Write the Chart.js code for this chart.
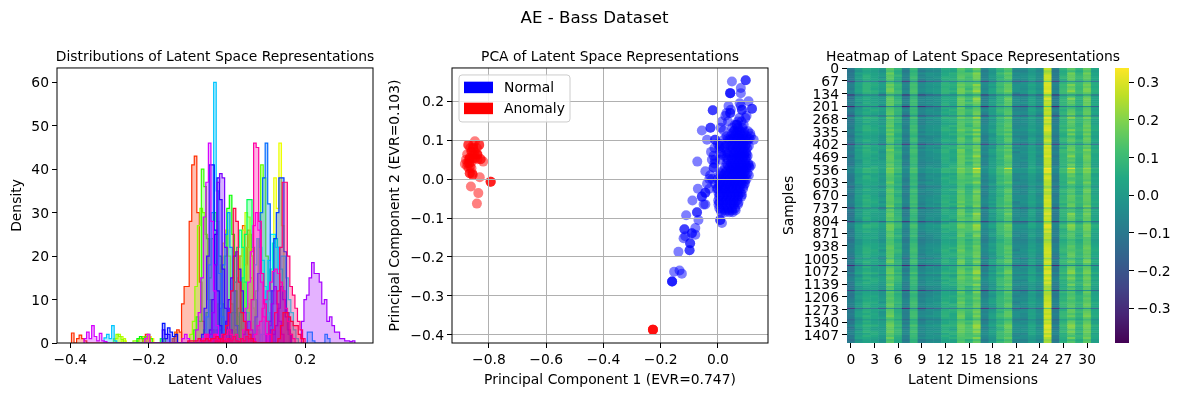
<!DOCTYPE html>
<html><head><meta charset="utf-8">
<style>html,body{margin:0;padding:0;background:#fff;overflow:hidden;width:1182px;height:396px}canvas{position:absolute;top:0}</style>
<script src="https://cdn.jsdelivr.net/npm/chart.js@4"></script></head><body>
<script>
// --- Histogram: each latent dimension is a list of runs [firstBinEdge, density, density, ...]
const histBin=0.0065;
const histColors=['#ff2e00','#ff5b00','#ff8900','#ffb700','#ffe400','#ecff00','#beff00','#91ff00','#63ff00','#36ff00','#08ff00','#00ff26','#00ff53','#00ff81','#00ffaf','#00ffdc','#00f4ff','#00c6ff','#0099ff','#006bff','#003dff','#0010ff','#1e00ff','#4b00ff','#7900ff','#a700ff','#d400ff','#ff00f7','#ff00ce','#ff00a1','#ff0073','#ff0046'];
const dim00=[[-.397,2.3,0,1,1.8,1,.5],[-.215,1,2,1.5],[-.135,1.5,3,2.5],[-.116,9,13,13,28,41,43,30,14,5,2]];
const dim01=[[-.21,1.5,1],[-.14,1,2.5],[.02,3,8,20,27,18,26,15,8,3]];
const dim02=[[.03,3,8,14,22,25,20,10,4]];
const dim03=[[-.225,1,1.5,.5],[.012,3,7,15,20,22,18,9,3]];
const dim04=[[-.2,1.5,1],[-.03,3,9,18,23,26,20,9,3]];
const dim05=[[-.27,.5,.5],[.1,2,6,17,38,31,46,27,10,3]];
const dim06=[[-.285,1,2,1.5,1],[.02,2,6,14,26,30,29,20,8,3]];
const dim07=[[-.29,1,2,1.5,.8],[-.24,.5,.5],[-.095,2,5,13,27,31,30,25,10,3]];
const dim08=[[-.17,1,1],[.06,2,5,12,24,41,38,20,7,2]];
const dim09=[[-.21,1.5,2,1],[-.085,3,6,5,40,36,24,10,3]];
const dim10=[[-.23,1,1.5,1],[-.02,3,9,20,31,34,25,12,4,1]];
const dim11=[[-.06,3,7,15,24,30,28,20,9,3]];
const dim12=[[-.17,1],[.025,2,7,15,25,33,33,22,10,3]];
const dim13=[[.005,3,7,14,22,26,22,14,7,2]];
const dim14=[[.09,2,5,10,17,23,24,22,17,12,6,2]];
const dim15=[[.05,2,5,10,18,24,22,19,13,7,2]];
const dim16=[[.085,2,5,12,19,25,25,22,17,20,20,15,10,7,3,1]];
const dim17=[[-.314,1.2,2,1,4,.5],[-.06,2,6,18,30,60,35,16,6,2]];
const dim18=[[-.025,3,8,18,25,30,22,12,4],[.205,2.5,2.5,.5],[.25,2,1]];
const dim19=[[.065,2,6,16,30,38,46,32,12,3]];
const dim20=[[.1,2,5,12,24,30,38,38,21,7,2]];
const dim21=[[-.165,4.5,2,3.5,2.5,1.5,2],[-.065,2,8,20,41,41,26,12,4]];
const dim22=[[-.165,3,1,2],[-.045,3,10,25,38,33,17,8,3]];
const dim23=[[-.01,2,5,10,15,20,21,17,12,7,3],[.11,3,2,4,8,13,10,6,3]];
const dim24=[[-.045,2,7,18,37,39,38,22,8,3],[.04,2,3,5,3,1],[.1,2,4,9,13,9,5,2]];
const dim25=[[.19,5,10,11,15,18.5,16,16,14,9,10,5,6,4,2.5,2.5,1,1,.5,.5,.3,.5]];
const dim26=[[-.365,1,2.5,1,4,1.5,.5,2.2,.5,.3],[-.115,1,2,1],[-.08,3,7,15,29,37,46,28,12,4,1]];
const dim27=[[-.21,1,2],[.04,3,8,14,21,27,30,26,14,6,2]];
const dim28=[[-.07,.5,1,2,1,.5,1,2,1,.5,1,2,3,2,1,2,1],[.07,2,4,5,8,10,12,14,16.5,17,16,14,12,8,5,2,1]];
const dim29=[[-.06,1,2,.5,1,2,.5,1,2,.5,1],[.055,3,10,46,45,28,16,9,5,2]];
const dim30=[[-.03,.5,.3,1,.5,.3,1,.5,1.5,.5,.3,1,.5,1.5,1,.5,.3],[.115,3,7,12,22,37,37,20,13,11,8,5,3,1]];
const dim31=[[-.1,.5,.5,.5,.5,1,.5,.5,1,.5,1,1,1.5,1],[-.01,2,4,7,12,31,28,14,7,5,3,2,1],[.13,1,4,7,7,6,5,4,4,2,1]];
const histDims=[dim00,dim01,dim02,dim03,dim04,dim05,dim06,dim07,dim08,dim09,dim10,dim11,dim12,dim13,dim14,dim15,dim16,dim17,dim18,dim19,dim20,dim21,dim22,dim23,dim24,dim25,dim26,dim27,dim28,dim29,dim30,dim31];
const histXTicks=[-.4,-.2,0,.2];
const histYTicks=[0,10,20,30,40,50,60];
// --- PCA: rows of [y, x, x, ...]
const normalRows=[[.254,.097,.097],[.251,.049],[.234,.08],[.221,.043,.043,.043,.08],[.2,.107],[.195,.076],[.188,.037,.08],[.181,.119,.119],[.178,.084,.084,.045],[.177,-.018,-.018],[.17,.043,.043,.03],[.163,.026,.1],[.157,.096,.075],[.148,.014,.035,.07,.082],[.14,.066,.066,.06,.09],[.132,-.026,-.026,.01,.05,.07,.085],[.125,-.056,.02,.058,.075],[.117,.05,.062,.078,.09,.113],[.11,.03,.045,.06,.072,.085,.1,.115],[.101,-.038,-.01,-.01,.02,.125,.04,.055,.07,.083,.095,.105],[.09,0,.012,.03,.05,.062,.075,.088,.1],[.08,-.012,.005,.022,.04,.052,.065,.078,.09,.102],[.07,-.024,.008,.03,.05,.062,.074,.086,.098],[.06,-.015,.02,.04,.056,.068,.08,.092,.104],[.05,-.021,-.01,.008,.035,.048,.06,.072,.084,.096],[.045,-.072],[.04,-.012,.03,.045,.058,.07,.082,.094,.106],[.03,-.015,-.015,.025,.04,.052,.064,.076,.088,.1,.11],[.02,-.044,.015,.03,.045,.058,.07,.082,.094],[.01,-.027,.005,.02,.034,.048,.06,.072,.085,.097,.108],[0,-.03,-.02,0,.012,.026,.04,.052,.065,.078,.09,.1],[-.012,-.038,-.01,.005,.018,.032,.045,.058,.07,.083,.094],[-.025,-.07,-.03,-.004,.012,.025,.038,.05,.063,.076,.088],[-.035,-.044,-.044,.002,.016,.03,.043,.056,.068,.08],[-.045,-.056,-.056,.004,.018,.032,.045,.058,.07,.082],[-.055,-.089,.001,.014,.028,.042,.055,.067],[-.065,-.044,-.05,.002,.016,.03,.044,.056,.07],[-.075,.005,.02,.034,.048,.06],[-.085,-.073,-.073,.012,.025,.04,.052],[-.093,-.111],[-.105,-.068,.008,.008],[-.113,.014],[-.126,-.079],[-.129,-.117,-.117],[-.139,-.091,-.091],[-.143,-.079],[-.147,-.114],[-.152,-.12],[-.165,-.097,-.097],[-.183,-.099,-.099],[-.187,-.138],[-.235,-.134],[-.238,-.153],[-.243,-.126],[-.263,-.16,-.16,-.16],
[.123,.055,.068,.08,.092,.105],[.104,.035,.05,.065,.078,.09,.11],[.085,.006,.025,.045,.058,.07,.082,.095,.108],[.065,.012,.035,.055,.068,.08,.092,.1],[.055,.03,.05,.064,.076,.088,.1],[.035,.035,.05,.062,.074,.086,.098,.108,.115],[.015,.01,.025,.04,.054,.066,.078,.09,.103],[-.005,.008,.02,.034,.046,.058,.07,.082,.095],[-.018,.004,.015,.028,.04,.052,.064,.076,.09],[-.04,.008,.022,.034,.048,.06,.072,.084],[-.06,.005,.02,.034,.048,.06,.072],[-.08,.01,.024,.038,.05,.062],[-.025,.0,.02,.043,.07],[.025,.045,.07,.09]];
const anomalyRows=[[.097,-.849],[.088,-.872,-.872,-.834,-.834,-.855],[.08,-.855,-.855,-.865,-.842],[.071,-.861,-.861,-.85],[.064,-.876,-.855,-.84],[.063,-.841,-.841,-.85],[.054,-.867,-.867,-.849,-.849,-.858],[.051,-.829,-.829,-.84],[.05,-.88,-.87],[.045,-.82,-.86],[.041,-.869,-.869,-.875],[.039,-.884],[.033,-.876,-.865],[.028,-.861,-.87],[.015,-.867,-.867,-.858],[.011,-.857,-.857],[.005,-.832],[-.007,-.794,-.794,-.794],[-.019,-.863],[-.036,-.837],[-.063,-.842],[-.387,-.227,-.227,-.227,-.227]];
const pcaXTicks=[-.8,-.6,-.4,-.2,0];
const pcaYTicks=[-.4,-.3,-.2,-.1,0,.1,.2];
// --- Heatmap: row patterns (hundredths, per latent dimension), their height in samples, and their order top to bottom
const heatPatterns=[
[-9,1,6,4,0,15,8,-7,10,-6,-3,-2,6,5,15,10,17,-6,1,9,14,-4,-4,2,-3,27,-8,8,15,8,16,4],
[-7,3,8,6,2,17,10,-5,12,-4,-1,0,8,7,17,13,21,-4,3,11,16,-2,-2,4,-1,30,-6,10,19,10,18,6],
[-11,-1,4,2,-2,13,6,-9,8,-8,-5,-4,4,3,13,8,14,-8,-1,7,12,-6,-6,0,-5,24,-10,6,12,6,14,2],
[-10,0,7,3,1,14,9,-6,9,-7,-2,-3,5,6,14,12,18,-7,0,8,13,-5,-3,1,-4,28,-9,7,16,9,15,3],
[-8,2,5,5,-1,16,7,-8,11,-5,-4,-1,7,4,16,9,15,-5,2,10,15,-3,-5,3,-2,26,-7,9,13,7,17,5],
[-12,-2,3,1,-3,12,5,-10,7,-9,-6,-5,3,2,12,6,12,-9,-2,6,11,-7,-7,-1,-6,22,-11,5,10,5,13,1],
[-6,4,9,7,3,18,11,-4,13,-3,0,1,9,8,18,14,23,-3,4,12,18,-1,-1,5,0,31,-5,11,21,11,19,7],
[-9,0,6,4,2,14,6,-7,9,-8,-3,-4,6,7,13,11,16,-6,-1,9,12,-6,-4,2,-4,27,-9,6,16,8,14,4],
[-8,1,4,3,-1,15,9,-6,11,-5,-5,-2,5,4,16,8,19,-7,2,8,15,-3,-6,3,-2,25,-7,9,14,6,17,3],
[-10,2,7,5,0,13,7,-8,10,-6,-2,-1,7,5,14,12,13,-5,0,10,13,-5,-3,1,-3,29,-8,7,12,9,15,5],
[-11,0,5,2,1,16,8,-9,8,-7,-4,-3,4,6,15,9,18,-8,1,7,14,-4,-5,2,-5,26,-10,8,17,7,16,2],
[-7,1,7,6,-2,14,10,-5,12,-6,-3,0,8,4,17,10,15,-4,3,9,13,-7,-2,4,-1,28,-6,10,13,10,15,6],
[-9,3,5,3,0,17,6,-7,9,-4,-1,-2,5,7,13,13,20,-6,-1,11,16,-3,-4,0,-3,25,-8,6,18,8,18,4],
[-10,-1,6,4,2,13,8,-8,10,-7,-5,-4,6,5,16,7,14,-7,2,8,12,-5,-6,3,-4,27,-9,8,11,6,14,3],
[-8,2,8,5,1,15,9,-6,11,-5,-2,-1,7,6,15,11,17,-5,0,9,15,-2,-3,2,-2,29,-7,9,15,9,16,5],
[-9,0,3,3,-1,14,5,-7,8,-8,-4,-3,3,3,14,9,16,-6,1,10,14,-6,-5,1,-3,24,-8,7,14,7,15,2],
[-12,1,6,2,0,16,7,-9,9,-6,-3,-2,6,5,17,12,22,-8,-1,8,17,-4,-4,3,-5,30,-10,8,20,8,18,4],
[-8,-1,5,4,1,13,8,-6,10,-7,-3,-3,5,4,13,8,13,-5,2,9,11,-5,-5,1,-2,26,-7,7,12,7,14,3],
[-10,2,7,3,-2,15,6,-8,11,-5,-4,-1,7,6,15,10,18,-7,0,7,15,-3,-3,2,-4,28,-9,9,16,10,16,5],
[-7,0,4,6,2,14,9,-5,9,-6,-2,-4,4,7,14,11,15,-4,1,10,13,-6,-6,4,-1,25,-6,6,14,6,15,2],
[-9,3,8,4,0,18,8,-7,12,-4,-1,0,8,5,18,9,19,-6,3,11,16,-2,-4,2,-3,29,-8,10,17,9,19,6],
[-11,1,5,5,-1,13,7,-9,8,-8,-5,-2,5,6,12,10,14,-8,-2,8,12,-7,-5,0,-5,26,-10,7,13,8,13,3],
[-9,-2,6,2,1,15,10,-6,10,-6,-3,-3,6,3,16,13,17,-6,1,7,14,-4,-2,3,-3,27,-8,8,15,7,16,4],
[-8,1,7,4,3,16,7,-7,11,-5,-2,-1,6,8,14,8,16,-5,0,9,15,-5,-4,1,-2,28,-7,9,14,8,17,5],
[-26,-12,-9,-10,-18,-2,-8,-28,-7,-24,-18,-16,-9,-10,-4,-6,-3,-26,-15,-8,-5,-20,-20,-13,-18,15,-27,-9,-4,-9,-2,-13],
[-29,-14,-10,-11,-20,-5,-9,-30,-8,-27,-20,-18,-10,-10,-4,-6,-2,-28,-17,-9,-5,-22,-22,-14,-20,14,-30,-10,-4,-10,-2,-14],
[-31,-15,-11,-12,-21,-6,-10,-32,-9,-29,-21,-19,-12,-11,-5,-8,-3,-30,-18,-10,-6,-23,-23,-15,-21,13,-32,-11,-5,-11,-3,-15],
[-24,-10,-7,-8,-16,0,-6,-26,-5,-23,-16,-14,-7,-8,-2,-4,-1,-25,-13,-6,-3,-18,-19,-11,-16,17,-26,-7,-2,-7,0,-11],
[-27,-13,-10,-10,-19,-3,-9,-29,-7,-26,-19,-17,-10,-10,-4,-7,-3,-27,-16,-9,-5,-21,-21,-13,-19,15,-28,-10,-4,-9,-2,-14],
[-25,-11,-8,-9,-17,-1,-7,-27,-5,-25,-17,-15,-8,-8,-2,-5,-1,-25,-14,-7,-3,-19,-19,-12,-17,16,-27,-8,-2,-8,0,-12],
[-26,-12,-8,-9,-18,-1,-8,-28,-6,-25,-18,-16,-9,-9,-3,-6,-2,-26,-15,-8,-4,-20,-21,-13,-18,16,-28,-8,-3,-9,-1,-13],
[-30,-15,-11,-11,-20,-5,-10,-31,-9,-28,-22,-19,-11,-11,-5,-7,-3,-29,-18,-10,-6,-23,-22,-15,-20,13,-31,-11,-5,-10,-3,-15],
[-26,-12,-9,-10,-18,-2,-8,-28,-7,-26,-19,-16,-9,-9,-3,-6,-2,-27,-16,-8,-4,-20,-20,-13,-18,15,-28,-9,-3,-9,-1,-13],
[-29,-14,-10,-11,-20,-4,-9,-30,-8,-27,-20,-17,-10,-11,-4,-7,-2,-28,-17,-9,-5,-22,-22,-14,-19,14,-30,-10,-4,-10,-2,-14],
[-5,4,10,8,4,20,12,-4,14,-3,1,2,9,9,20,14,32,-3,4,13,28,-1,0,6,1,35,-5,12,29,12,22,8],
[-16,-4,0,-2,-7,9,2,-15,3,-13,-10,-8,0,0,9,4,9,-14,-6,3,7,-11,-11,-5,-9,21,-16,1,7,2,9,-4],
[-18,-6,-2,-3,-9,7,0,-17,2,-14,-11,-10,-1,-1,8,3,8,-16,-7,1,6,-12,-13,-6,-11,20,-18,0,6,1,8,-5],
[-15,-5,0,-2,-8,8,1,-14,3,-12,-9,-9,0,-1,9,4,10,-13,-5,2,7,-10,-11,-5,-9,22,-15,1,8,2,10,-3],
[-17,-5,-1,-3,-8,8,0,-16,2,-14,-10,-9,-1,0,8,3,9,-15,-6,2,6,-11,-12,-6,-10,21,-17,0,7,1,9,-4]];
const heatHeights=[11,11,11,11,11,11,11,11,11,11,11,11,11,11,11,11,11,11,11,11,11,11,11,11,6,6,6,6,6,6,6,6,6,6,6,5,5,5,5];
const heatOrder=[0,5,12,3,18,7,24,9,1,14,20,6,11,25,2,16,8,22,4,26,13,19,0,10,27,6,21,3,15,23,9,1,17,12,5,8,18,2,28,14,7,20,11,0,16,4,22,13,10,19,34,1,6,15,3,9,21,12,17,35,5,23,8,2,18,0,14,11,7,20,29,4,13,16,10,3,22,30,19,6,1,12,9,15,8,21,5,2,17,0,23,11,14,7,18,36,4,20,13,31,3,10,16,6,37,22,1,19,9,12,5,15,32,8,2,21,0,17,11,23,14,33,7,18,4,20,13,38,3,10,6,16,22,1,19,9,12,5,15,24,8];
const heatRowTicks=[0,67,134,201,268,335,402,469,536,603,670,737,804,871,938,1005,1072,1139,1206,1273,1340,1407];
const heatDims=Array.from({length:32},(_,i)=>String(i));
const barTicks=[-.3,-.2,-.1,0,.1,.2,.3];
const barRange=[-.392,.338];
const viridis=['#440154','#482475','#414487','#355f8d','#2a788e','#21918c','#22a884','#44bf70','#7ad151','#bddf26','#fde725'];

const FS=13.89;
Chart.defaults.font.family='"DejaVu Sans"';Chart.defaults.font.size=FS;Chart.defaults.color='#000';Chart.defaults.animation=false;
const fmt=v=>(Math.abs(v)<1e-9?'0.0':v.toFixed(1)).replace('-','\u2212');
function mk(left,w){const c=document.createElement('canvas');c.width=w;c.height=396;c.style.left=left+'px';c.style.width=w+'px';c.style.height='396px';document.body.appendChild(c);return c.getContext('2d');}
const fixW=w=>s=>{s.width=w;s.paddingTop=s.paddingBottom=s.paddingLeft=s.paddingRight=0;};
const fixH=h=>s=>{s.height=h;s.paddingTop=s.paddingBottom=s.paddingLeft=s.paddingRight=0;};
const useTicks=l=>s=>{s.ticks=l.map(value=>({value}));};
const tickGrid={drawOnChartArea:false,tickLength:5,tickColor:'#000'};
const axTitle=t=>({display:true,text:t,padding:0});
const subTitle=t=>({display:true,text:t,font:{size:FS,weight:'normal'},padding:{top:0,bottom:2.3}});
// an empty axis on the right mirrors the left one, so each subplot title centres over its plot
const mirror=w=>({position:'right',display:true,afterFit:fixW(w),grid:{display:false},border:{display:false},ticks:{display:false}});
const base={responsive:false,events:[],maintainAspectRatio:false};
const frame={id:'frame',afterDraw(c){const a=c.chartArea,x=c.ctx;x.save();x.strokeStyle='#000';x.lineWidth=1;x.strokeRect(a.left,a.top,a.right-a.left,a.bottom-a.top);x.restore();}};

// Figure title
new Chart(mk(0,1189),{type:'bar',data:{labels:[],datasets:[]},options:{...base,layout:{padding:0},scales:{x:{display:false},y:{display:false}},plugins:{legend:{display:false},title:{display:true,text:'AE - Bass Dataset',font:{size:16.67,weight:'normal'},padding:{top:9,bottom:0}}}}});

// Histogram
const histSets=histDims.map((runs,i)=>{const pts=[{x:runs[0][0],y:0}];runs.forEach(r=>{const x0=r[0];r.slice(1).forEach((v,k)=>pts.push({x:x0+k*histBin,y:v}));pts.push({x:x0+(r.length-1)*histBin,y:0});});return {data:pts,yAxisID:'y',borderColor:histColors[i],backgroundColor:histColors[i]+'4d',borderWidth:1.2,pointRadius:0,stepped:true,tension:0,fill:'origin',order:-i};});
new Chart(mk(0,430),{type:'line',data:{datasets:histSets},plugins:[frame],options:{...base,layout:{padding:{left:9.5,right:9.5,top:49,bottom:7.5}},plugins:{legend:{display:false},tooltip:{enabled:false},title:subTitle('Distributions of Latent Space Representations')},scales:{
x:{type:'linear',min:-.434,max:.3728,afterBuildTicks:useTicks(histXTicks),afterFit:fixH(45.5),grid:tickGrid,border:{display:false},ticks:{callback:fmt,maxRotation:0,autoSkip:false,padding:4},title:axTitle('Latent Values')},
y:{min:0,max:63.3,afterBuildTicks:useTicks(histYTicks),afterFit:fixW(47.5),grid:tickGrid,border:{display:false},ticks:{callback:v=>String(v),autoSkip:false,padding:3,labelOffset:1.5},title:axTitle('Density')},
mirror:mirror(47.5)}}});

// PCA scatter
const toPts=rows=>rows.flatMap(r=>r.slice(1).map(x=>({x,y:r[0]})));
const pcaLegend={id:'pcaLegend',afterDraw(c){const a=c.chartArea,x=c.ctx,l=a.left+7,t=a.top+7;x.save();x.fillStyle='rgba(255,255,255,.8)';x.strokeStyle='#ccc';x.beginPath();x.roundRect(l,t,111,47,3);x.fill();x.stroke();c.data.datasets.forEach((d,i)=>{const y=t+6.7+i*21;x.fillStyle=d.legendColor;x.fillRect(l+5,y,29,11.5);x.fillStyle='#000';x.font=FS+'px "DejaVu Sans"';x.textBaseline='middle';x.textAlign='left';x.fillText(d.label,l+45,y+7);});x.restore();}};
new Chart(mk(380,460),{type:'scatter',data:{datasets:[{label:'Normal',legendColor:'#0000ff',data:toPts(normalRows),backgroundColor:'rgba(0,0,255,.5)',borderWidth:0,pointRadius:5},{label:'Anomaly',legendColor:'#ff0000',data:toPts(anomalyRows),backgroundColor:'rgba(255,0,0,.5)',borderWidth:0,pointRadius:5}]},plugins:[frame,pcaLegend],options:{...base,layout:{padding:{left:7.5,right:7.5,top:49,bottom:7.5}},plugins:{legend:{display:false},tooltip:{enabled:false},title:subTitle('PCA of Latent Space Representations')},scales:{
x:{type:'linear',min:-.929,max:.175,afterBuildTicks:useTicks(pcaXTicks),afterFit:fixH(45.5),grid:{color:'#b0b0b0',z:1,tickLength:5,tickColor:'#000'},border:{display:false},ticks:{callback:fmt,maxRotation:0,autoSkip:false,padding:4},title:axTitle('Principal Component 1 (EVR=0.747)')},
y:{min:-.4213,max:.2857,afterBuildTicks:useTicks(pcaYTicks),afterFit:fixW(64.5),grid:{color:'#b0b0b0',z:1,tickLength:5,tickColor:'#000'},border:{display:false},ticks:{callback:fmt,autoSkip:false,padding:3,labelOffset:1.5},title:axTitle('Principal Component 2 (EVR=0.103)')},
mirror:mirror(64.5)}}});

// Heatmap
function viridisAt(t){t=Math.min(1,Math.max(0,t))*(viridis.length-1);const i=Math.min(viridis.length-2,Math.floor(t)),f=t-i,h=s=>[1,3,5].map(k=>parseInt(s.substr(k,2),16)),a=h(viridis[i]),b=h(viridis[i+1]);return `rgb(${a.map((v,k)=>Math.round(v+(b[k]-v)*f)).join(',')})`;}
const heatSets=heatOrder.map(p=>({data:heatDims.map(()=>heatHeights[p]),yAxisID:'y',backgroundColor:heatPatterns[p].map(v=>viridisAt((v/100-barRange[0])/(barRange[1]-barRange[0]))),borderWidth:0,inflateAmount:.25,barPercentage:1,categoryPercentage:1,stack:'h'}));
new Chart(mk(770,406),{type:'bar',data:{labels:heatDims,datasets:heatSets},options:{...base,layout:{padding:{left:11.5,right:11.5,top:49,bottom:7.5}},plugins:{legend:{display:false},tooltip:{enabled:false},title:subTitle('Heatmap of Latent Space Representations')},scales:{
x:{stacked:true,offset:true,afterFit:fixH(45.5),grid:{drawOnChartArea:false,offset:false,tickLength:5,tickColor:c=>c.index%3?'transparent':'#000'},border:{display:false},ticks:{maxRotation:0,autoSkip:false,padding:4,callback:(v,i)=>i%3?'':String(i)},title:axTitle('Latent Dimensions')},
y:{stacked:true,reverse:true,min:0,max:1450,afterBuildTicks:useTicks(heatRowTicks.map(v=>v+.5)),afterFit:fixW(65.5),grid:tickGrid,border:{display:false},ticks:{autoSkip:false,padding:3,labelOffset:1.5,callback:v=>String(v-.5)},title:axTitle('Samples')},
mirror:mirror(65.5)}}});

// Colour bar
new Chart(mk(1105,77),{type:'bar',data:{labels:['v'],datasets:[{data:[barRange],barPercentage:1,categoryPercentage:1,borderWidth:0,backgroundColor(c){const a=c.chart.chartArea;if(!a)return '#000';const g=c.chart.ctx.createLinearGradient(0,a.bottom,0,a.top);viridis.forEach((col,i)=>g.addColorStop(i/(viridis.length-1),col));return g;}}]},options:{...base,layout:{padding:{left:10,right:0,top:68,bottom:53}},plugins:{legend:{display:false},tooltip:{enabled:false}},scales:{
x:{display:false},
y:{position:'right',min:barRange[0],max:barRange[1],afterBuildTicks:useTicks(barTicks),afterFit:fixW(53),grid:tickGrid,border:{display:false},ticks:{callback:fmt,autoSkip:false,padding:3,labelOffset:1.5}}}}});
</script></body></html>
